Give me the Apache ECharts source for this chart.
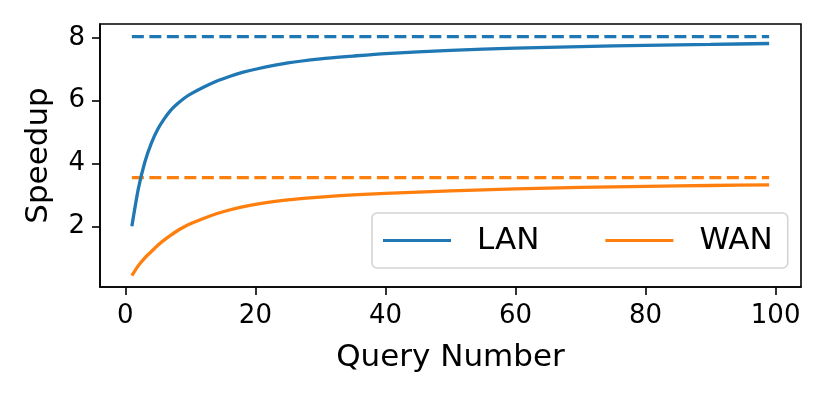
<!DOCTYPE html>
<html>
<head>
<meta charset="utf-8">
<script src="https://cdn.jsdelivr.net/npm/echarts@6/dist/echarts.min.js"></script>
<style>
  html, body { margin: 0; padding: 0; background: #fff; }
  #chart { width: 830px; height: 399px; }
</style>
</head>
<body>
<div id="chart"></div>
<script>
// values
const queryNumbers = [1, 2, 3, 4, 5, 6, 7, 8, 9, 10, 12, 14, 16, 18, 20, 25, 30, 35, 40, 50, 60, 70, 80, 90, 99];
const lanSpeedup = [2.0, 3.2, 4.05, 4.65, 5.1, 5.43, 5.7, 5.9, 6.07, 6.21, 6.43, 6.62, 6.77, 6.9, 7.0, 7.2, 7.33, 7.42, 7.5, 7.6, 7.67, 7.72, 7.76, 7.79, 7.82];
const wanSpeedup = [0.43, 0.75, 1.0, 1.2, 1.4, 1.57, 1.72, 1.86, 1.98, 2.08, 2.25, 2.4, 2.52, 2.62, 2.7, 2.84, 2.93, 3.0, 3.05, 3.13, 3.19, 3.24, 3.27, 3.3, 3.32];
const lanLimit = 8.04;
const wanLimit = 3.55;
const xTicks = [0, 20, 40, 60, 80, 100];
const yTicks = [2, 4, 6, 8];

const blue = '#1f77b4';
const orange = '#ff7f0e';
const font = 'DejaVu Sans';

const chart = echarts.init(document.getElementById('chart'));

const pairs = (xs, ys) => xs.map((x, i) => [x, ys[i]]);
const firstX = queryNumbers[0];
const lastX = queryNumbers[queryNumbers.length - 1];

const options = {
  animation: false,
  grid: {
    left: 100, right: 29, top: 24, bottom: 112,
    show: true, borderColor: '#000', borderWidth: 1.6,
    backgroundColor: 'transparent'
  },
  xAxis: {
    type: 'value',
    min: -3.9,
    max: 103.9,
    name: 'Query Number',
    nameLocation: 'middle',
    nameGap: 55,
    nameTextStyle: { fontFamily: font, fontSize: 31, color: '#000' },
    splitLine: { show: false },
    axisLine: { show: true, onZero: false, lineStyle: { color: '#000', width: 1.6 } },
    axisTick: { show: true, customValues: xTicks, length: 8, lineStyle: { color: '#000', width: 1.6 } },
    axisLabel: { customValues: xTicks, fontFamily: font, fontSize: 26, color: '#000', margin: 16 }
  },
  yAxis: {
    type: 'value',
    min: 0.07,
    max: 8.44,
    name: 'Speedup',
    nameLocation: 'middle',
    nameGap: 46,
    nameTextStyle: { fontFamily: font, fontSize: 31, color: '#000' },
    splitLine: { show: false },
    axisLine: { show: true, onZero: false, lineStyle: { color: '#000', width: 1.6 } },
    axisTick: { show: true, customValues: yTicks, length: 8, lineStyle: { color: '#000', width: 1.6 } },
    axisLabel: { customValues: yTicks, fontFamily: font, fontSize: 26, color: '#000', margin: 15 }
  },
  legend: {
    data: [
      { name: 'LAN', icon: 'rect' },
      { name: 'WAN', icon: 'rect' }
    ],
    left: 372,
    top: 213,
    orient: 'horizontal',
    itemWidth: 68,
    itemHeight: 3,
    itemGap: 66,
    padding: [12, 15, 12, 11],
    backgroundColor: '#fff',
    borderColor: '#d4d4d4',
    borderWidth: 1.6,
    borderRadius: 5,
    textStyle: { fontFamily: font, fontSize: 31, color: '#000', padding: [0, 0, 0, 21] }
  },
  series: [
    {
      name: 'LAN',
      type: 'line',
      data: pairs(queryNumbers, lanSpeedup),
      smooth: 0.25,
      showSymbol: false,
      lineStyle: { color: blue, width: 3.3 },
      itemStyle: { color: blue },
      z: 3
    },
    {
      name: 'WAN',
      type: 'line',
      data: pairs(queryNumbers, wanSpeedup),
      smooth: 0.25,
      showSymbol: false,
      lineStyle: { color: orange, width: 3.3 },
      itemStyle: { color: orange },
      z: 3
    },
    {
      name: 'LAN limit',
      type: 'line',
      data: [[firstX, lanLimit], [lastX, lanLimit]],
      showSymbol: false,
      lineStyle: { color: blue, width: 3.3, type: [12, 5.5] },
      itemStyle: { color: blue },
      z: 2
    },
    {
      name: 'WAN limit',
      type: 'line',
      data: [[firstX, wanLimit], [lastX, wanLimit]],
      showSymbol: false,
      lineStyle: { color: orange, width: 3.3, type: [12, 5.5] },
      itemStyle: { color: orange },
      z: 2
    }
  ]
};

chart.setOption(options);
</script>
</body>
</html>
